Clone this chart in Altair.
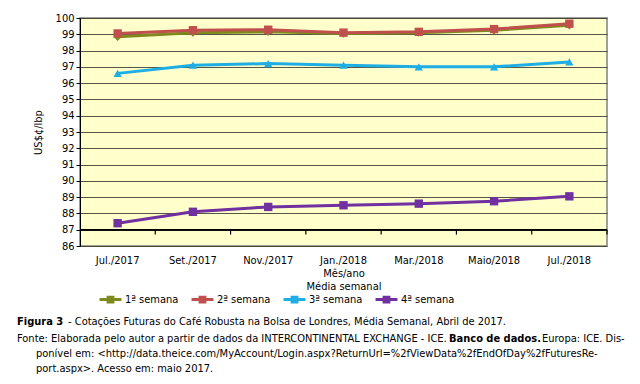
import altair as alt
import pandas as pd

months = ["Jul./2017", "Set./2017", "Nov./2017", "Jan./2018", "Mar./2018", "Maio/2018", "Jul./2018"]
series_names = ["1ª semana", "2ª semana", "3ª semana", "4ª semana"]
s1 = [98.85, 99.10, 99.15, 99.05, 99.10, 99.25, 99.55]
s2 = [99.05, 99.25, 99.28, 99.10, 99.15, 99.32, 99.65]
s3 = [96.60, 97.10, 97.20, 97.10, 97.00, 97.00, 97.30]
s4 = [87.40, 88.10, 88.40, 88.50, 88.60, 88.75, 89.05]
colors = ["#7F8A1E", "#C0504D", "#1FAEE3", "#7030A0"]
shapes = ["diamond", "square", "triangle-up", "square"]

y_ticks = list(range(86, 101))
x_axis_crossing = 87
tick_len_units = 0.3

cap1_bold = "Figura 3"
cap1_rest = "- Cotações Futuras do Café Robusta na Bolsa de Londres, Média Semanal, Abril de 2017."
cap2_a = "Fonte: Elaborada pelo autor a partir de dados da INTERCONTINENTAL EXCHANGE - ICE."
cap2_bold = "Banco de dados."
cap2_c = "Europa: ICE. Dis-"
cap3 = "ponível em: <http://data.theice.com/MyAccount/Login.aspx?ReturnUrl=%2fViewData%2fEndOfDay%2fFuturesRe-"
cap4 = "port.aspx>. Acesso em: maio 2017."

rows = []
for name, vals in zip(series_names, [s1, s2, s3, s4]):
    for m, v in zip(months, vals):
        rows.append({"mes": m, "serie": name, "valor": v})
df = pd.DataFrame(rows)
df_cross = pd.DataFrame({
    "mes": months,
    "cross": [x_axis_crossing] * len(months),
    "tick_end": [x_axis_crossing - tick_len_units] * len(months),
})

FONT = "DejaVu Sans Condensed, Liberation Sans, sans-serif"
W, H = 527, 228

x_scale = alt.Scale(type="band", paddingInner=0, paddingOuter=0, domain=months)
x_axis = alt.Axis(title=["Mês/ano", "Média semanal"], labelAngle=0, ticks=False, domain=False,
                  labelPadding=8, titlePadding=2, labelFont=FONT, titleFont=FONT,
                  labelFontSize=11, titleFontSize=11, titleFontWeight="normal",
                  labelColor="black", titleColor="black", grid=False)
y_scale = alt.Scale(domain=[86, 100], nice=False, zero=False)
y_axis = alt.Axis(values=y_ticks, title="US$¢/lbp", tickSize=4, labelPadding=2,
                  titlePadding=12, labelFont=FONT, titleFont=FONT, labelFontSize=11,
                  titleFontSize=11, titleFontWeight="normal", labelColor="black",
                  titleColor="black", domainColor="black", tickColor="black",
                  grid=True, gridColor="#3a3a2a", gridOpacity=0.85, labelOverlap=False)

legend_path = "M-1,0L1,0M-0.22,-0.22L0.22,-0.22L0.22,0.22L-0.22,0.22Z"

lines = alt.Chart(df).mark_line(strokeWidth=3).encode(
    x=alt.X("mes:N", scale=x_scale, axis=x_axis),
    y=alt.Y("valor:Q", scale=y_scale, axis=y_axis),
    color=alt.Color("serie:N", sort=series_names,
                    scale=alt.Scale(domain=series_names, range=colors),
                    legend=alt.Legend(title=None, orient="none", direction="horizontal",
                                      legendX=18, legendY=269, symbolType=legend_path,
                                      symbolSize=480, symbolStrokeWidth=3, gridAlign="all",
                                      columnPadding=6, labelFont=FONT, labelFontSize=11,
                                      labelColor="black", labelOffset=2)),
    order=alt.Order("serie:N"),
)

points = alt.Chart(df).mark_point(filled=True, size=70, opacity=1).encode(
    x=alt.X("mes:N", scale=x_scale, axis=x_axis),
    y=alt.Y("valor:Q", scale=y_scale, axis=y_axis),
    fill=alt.Fill("serie:N", scale=alt.Scale(domain=series_names, range=colors), legend=None),
    shape=alt.Shape("serie:N", scale=alt.Scale(domain=series_names, range=shapes), legend=None),
)

# horizontal axis line crossing at 87
cross_line = alt.Chart(df_cross).mark_rule(color="black", strokeWidth=1).encode(
    y=alt.Y("cross:Q", scale=y_scale, axis=y_axis),
)

# tick marks at category boundaries, pointing down from the crossing line
cross_ticks = alt.Chart(df_cross).mark_rule(color="black", strokeWidth=1.2).encode(
    x=alt.X("mes:N", scale=x_scale, axis=x_axis, bandPosition=1),
    y=alt.Y("cross:Q", scale=y_scale, axis=y_axis),
    y2=alt.Y2("tick_end:Q"),
)

one = pd.DataFrame({"k": [0]})

def cap(txt, x, y, bold=False):
    return alt.Chart(one).mark_text(
        text=txt, align="left", baseline="middle", font=FONT, fontSize=11,
        fontWeight="bold" if bold else "normal", color="black"
    ).encode(x=alt.value(x), y=alt.value(y))

caps = [
    cap(cap1_bold, -63, 304, True),
    cap(cap1_rest, -12, 304),
    cap(cap2_a, -63, 321),
    cap(cap2_bold, 369, 321, True),
    cap(cap2_c, 462, 321),
    cap(cap3, -44, 336),
    cap(cap4, -44, 351),
]

chart = alt.layer(lines, points, cross_line, cross_ticks, *caps).resolve_scale(
    color="independent", fill="independent", shape="independent"
).properties(
    width=W, height=H,
    autosize=alt.AutoSizeParams(type="none"),
    padding={"left": 72, "top": 10, "right": 25, "bottom": 130},
).configure_view(fill="#FFFFCC", stroke="#808080", strokeWidth=1.5)

chart.save("out.html", embed_options={"renderer": "svg", "actions": False})
